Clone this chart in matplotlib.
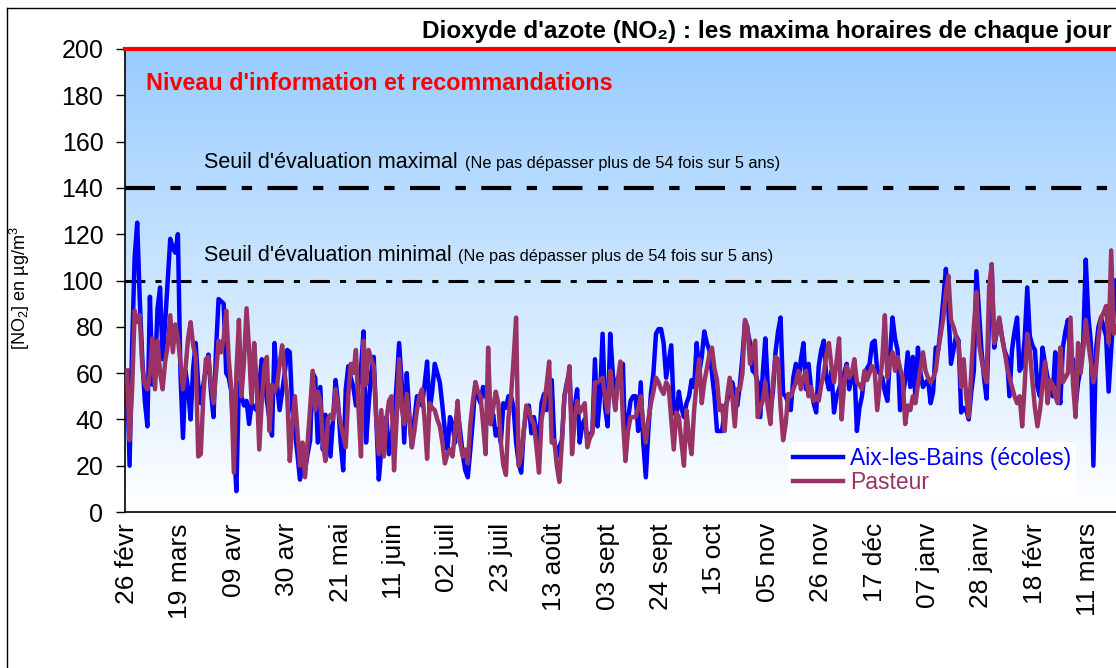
import numpy as np
import pandas as pd
import matplotlib.pyplot as plt
import matplotlib.dates as mdates
from matplotlib.lines import Line2D

plt.rcParams['font.family'] = ['Liberation Sans', 'DejaVu Sans']
plt.rcParams['mathtext.default'] = 'regular'

# daily hourly maxima of NO2 (µg/m3), starting 26 Feb
start = '2006-02-26'
aix = [
    61, 20, 72, 110, 125, 92, 66, 48, 37, 93, 55, 60, 88, 97, 66, 82, 100, 118, 114, 112,
    120, 60, 32, 61, 53, 40, 62, 73, 55, 47, 55, 62, 68, 52, 41, 70, 92, 91, 90, 60,
    58, 52, 30, 9, 56, 50, 46, 48, 38, 47, 45, 44, 55, 66, 58, 48, 40, 33, 73, 55,
    44, 52, 60, 70, 69, 44, 35, 25, 14, 20, 18, 25, 31, 60, 58, 30, 54, 27, 42, 38,
    24, 40, 57, 47, 30, 18, 53, 63, 58, 54, 46, 55, 62, 78, 30, 46, 60, 67, 40, 14,
    27, 35, 41, 25, 33, 41, 55, 73, 56, 30, 60, 42, 28, 40, 50, 48, 46, 55, 65, 44,
    52, 64, 60, 56, 46, 35, 27, 41, 38, 30, 44, 35, 25, 18, 15, 27, 40, 56, 50, 47,
    54, 50, 48, 38, 42, 33, 36, 30, 47, 45, 50, 50, 45, 30, 21, 17, 35, 44, 46, 34,
    41, 35, 30, 47, 51, 44, 50, 57, 31, 24, 28, 31, 50, 56, 60, 35, 45, 53, 30, 38,
    40, 31, 33, 35, 66, 37, 50, 77, 45, 37, 77, 60, 46, 58, 60, 64, 24, 40, 48, 50,
    50, 35, 56, 30, 15, 35, 51, 60, 77, 79, 79, 73, 58, 65, 72, 44, 41, 52, 45, 41,
    47, 50, 57, 54, 73, 60, 67, 78, 73, 70, 60, 50, 35, 35, 35, 44, 48, 53, 56, 51,
    46, 55, 67, 82, 78, 73, 61, 60, 56, 41, 60, 75, 54, 44, 52, 69, 78, 84, 51, 50,
    47, 44, 58, 64, 56, 66, 73, 53, 64, 53, 47, 43, 63, 70, 74, 58, 53, 61, 43, 50,
    53, 57, 60, 64, 53, 58, 63, 35, 45, 50, 60, 62, 64, 73, 74, 61, 60, 58, 52, 48,
    67, 84, 75, 70, 44, 50, 57, 69, 54, 67, 50, 71, 60, 54, 56, 57, 47, 52, 71, 70,
    80, 92, 105, 87, 64, 70, 76, 74, 43, 45, 44, 40, 52, 61, 104, 87, 70, 58, 49, 84,
    107, 71, 78, 83, 76, 70, 67, 50, 70, 78, 84, 61, 63, 75, 97, 76, 72, 70, 54, 50,
    71, 64, 58, 53, 50, 69, 55, 47, 71, 78, 83, 64, 66, 46, 56, 62, 73, 109, 85, 73,
    20, 70, 80, 84, 80, 76, 52, 70, 87, 100,
]
pasteur = [
    61, 31, 53, 87, 82, 85, 63, 55, 53, 60, 75, 53, 74, 60, 53, 65, 72, 85, 69, 81,
    75, 65, 53, 62, 75, 82, 72, 67, 24, 25, 50, 66, 67, 55, 47, 60, 74, 69, 75, 87,
    66, 53, 17, 60, 83, 50, 65, 88, 70, 47, 73, 55, 27, 48, 63, 67, 35, 55, 52, 55,
    64, 72, 60, 50, 22, 38, 50, 35, 20, 30, 15, 30, 45, 61, 44, 52, 48, 30, 22, 40,
    42, 40, 53, 45, 38, 33, 28, 50, 64, 60, 70, 45, 24, 74, 55, 70, 66, 63, 40, 25,
    44, 24, 40, 48, 50, 18, 40, 66, 45, 38, 51, 40, 28, 35, 44, 50, 53, 40, 23, 47,
    45, 44, 40, 37, 30, 21, 25, 27, 24, 35, 48, 30, 24, 27, 21, 38, 48, 56, 52, 50,
    38, 25, 71, 38, 45, 52, 47, 30, 20, 16, 41, 50, 66, 84, 20, 24, 35, 46, 44, 40,
    38, 28, 17, 40, 46, 55, 65, 30, 31, 20, 13, 30, 50, 55, 63, 25, 40, 48, 43, 45,
    47, 28, 32, 34, 56, 56, 57, 58, 50, 43, 61, 52, 44, 57, 65, 40, 22, 35, 41, 41,
    41, 45, 50, 38, 30, 40, 47, 52, 58, 56, 53, 51, 56, 54, 40, 27, 43, 41, 30, 20,
    44, 32, 25, 44, 56, 66, 47, 56, 62, 68, 71, 62, 57, 44, 46, 35, 50, 58, 50, 37,
    53, 53, 60, 83, 80, 64, 70, 74, 41, 45, 48, 56, 45, 38, 56, 67, 66, 45, 31, 38,
    51, 50, 53, 56, 61, 53, 58, 61, 50, 54, 48, 50, 48, 55, 60, 68, 73, 63, 56, 65,
    75, 40, 55, 63, 58, 60, 66, 56, 55, 53, 61, 57, 60, 63, 61, 44, 55, 66, 85, 58,
    65, 69, 61, 67, 62, 58, 38, 46, 44, 50, 47, 55, 62, 69, 61, 58, 56, 58, 61, 70,
    77, 84, 95, 102, 83, 80, 76, 73, 54, 66, 50, 41, 61, 80, 95, 73, 66, 60, 56, 97,
    107, 73, 78, 84, 76, 70, 63, 58, 54, 50, 47, 50, 37, 55, 77, 70, 57, 45, 37, 44,
    55, 65, 47, 57, 55, 50, 47, 71, 56, 58, 60, 84, 55, 41, 73, 60, 70, 83, 73, 65,
    56, 61, 75, 84, 86, 89, 73, 113, 77, 80,
]
tick_labels = ['26 févr', '19 mars', '09 avr', '30 avr', '21 mai', '11 juin',
               '02 juil', '23 juil', '13 août', '03 sept', '24 sept', '15 oct',
               '05 nov', '26 nov', '17 déc', '07 janv', '28 janv', '18 févr', '11 mars']
seuil_max = 140
seuil_min = 100
niveau_info = 200

days = pd.date_range(start, periods=len(aix), freq='D')
tick_dates = pd.date_range(start, periods=len(tick_labels), freq='21D')

W, H = 1116, 668
fig = plt.figure(figsize=(W / 100, H / 100), dpi=100)
ax = fig.add_axes([125 / W, 1 - 512 / H, 1020 / W, 463 / H])

# blue -> white gradient background
g = np.linspace(0, 1, 256)[:, None, None]
top = np.array([0.60, 0.80, 1.0])[None, None, :]
img = top + (1 - top) * g
ax.imshow(img, extent=[0, 1, 0, 1], transform=ax.transAxes, aspect='auto', zorder=0)

ax.axhline(seuil_max, color='black', lw=3, linestyle=(0, (7.2, 3.7, 2.5, 3.7)), zorder=2)
ax.axhline(seuil_min, color='black', lw=2.2, linestyle=(0, (6.5, 3.3, 2, 3.3)), zorder=2)

ax.plot(days, aix, color='#0000FF', lw=3.2, label='Aix-les-Bains (écoles)', zorder=3)
ax.plot(days, pasteur, color='#993366', lw=3.2, label='Pasteur', zorder=4)

ax.axhline(niveau_info, color='red', lw=3, clip_on=False, zorder=6)

x0 = mdates.date2num(days[0])
ax.set_xlim(x0 - 0.8, x0 + 400.3)
ax.set_ylim(0, 200)
ax.set_yticks(range(0, 201, 20))
ax.set_xticks(tick_dates)
ax.set_xticklabels(tick_labels, rotation=90, fontsize=19)
ax.tick_params(axis='y', labelsize=18, length=6.5, width=1, pad=9)
ax.tick_params(axis='x', length=0, pad=8)
for s in ['top', 'right']:
    ax.spines[s].set_visible(False)
for s in ['left', 'bottom']:
    ax.spines[s].set_linewidth(1.2)

leg = ax.legend(loc='upper left', bbox_to_anchor=(788 / W, 1 - 442 / H),
                bbox_transform=fig.transFigure, fontsize=16.5, handlelength=2.2,
                handletextpad=0.3, labelspacing=0.05, borderpad=0.2, borderaxespad=0,
                frameon=True, facecolor='white', edgecolor='none', framealpha=1)
for t, c in zip(leg.get_texts(), ['#0000FF', '#993366']):
    t.set_color(c)

# texts
fig.text(422 / W, 1 - 38 / H, "Dioxyde d'azote (NO₂) : les maxima horaires de chaque jour",
         fontsize=17.5, fontweight='bold', va='baseline')
fig.text(146 / W, 1 - 90.5 / H, "Niveau d'information et recommandations",
         fontsize=16.8, fontweight='bold', color='red', va='baseline')
fig.text(204 / W, 1 - 168 / H, "Seuil d'évaluation maximal", fontsize=15.5, va='baseline')
fig.text(465 / W, 1 - 168 / H, "(Ne pas dépasser plus de 54 fois sur 5 ans)",
         fontsize=11.7, va='baseline')
fig.text(204 / W, 1 - 261 / H, "Seuil d'évaluation minimal", fontsize=15.5, va='baseline')
fig.text(458 / W, 1 - 261 / H, "(Ne pas dépasser plus de 54 fois sur 5 ans)",
         fontsize=11.7, va='baseline')
fig.text(20 / W, 1 - 288 / H, '[NO$_2$] en µg/m$^3$', rotation=90,
         ha='center', va='center', fontsize=13)

# outer frame
fig.add_artist(Line2D([7 / W, 7 / W], [0, 1 - 8 / H], color='black', lw=1))
fig.add_artist(Line2D([7 / W, 1], [1 - 8 / H, 1 - 8 / H], color='black', lw=1))

fig.savefig('out.png', dpi=100)
